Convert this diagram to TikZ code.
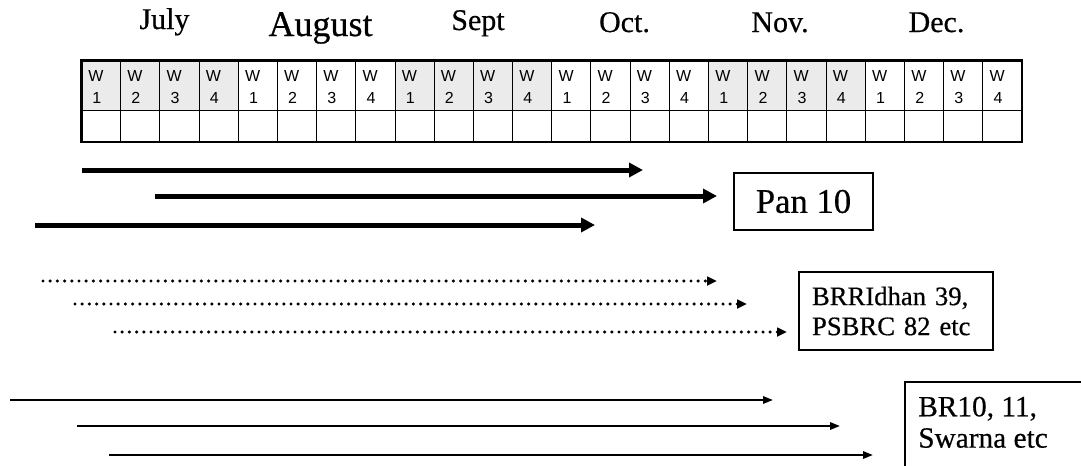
\documentclass[tikz,border=0pt]{standalone}
\usepackage{fontspec}
\setmainfont{Liberation Serif}[FakeBold=0.5]
\newfontfamily\arialf{Liberation Sans}
\usetikzlibrary{arrows.meta}
\definecolor{cellgray}{RGB}{235,235,235}
\begin{document}
\begin{tikzpicture}[x=0.75pt,y=-0.75pt,
  month/.style={font=\fontsize{22.5}{26}\selectfont, anchor=base, inner sep=0pt},
  wlab/.style={font=\arialf\fontsize{12}{13}\selectfont, anchor=base west, inner sep=0pt},
  bigarrow/.style={line width=3.75pt, -{Triangle[length=10.5pt,width=10.5pt]}},
  dotarrow/.style={line width=2.6pt, line cap=round, dash pattern=on 0pt off 5.4pt, -{Triangle[length=7.5pt,width=6.5pt]}},
  thinarrow/.style={line width=1.5pt, -{Triangle[length=7.5pt,width=5.5pt]}},
  gridline/.style={line width=0.75pt},
  outerline/.style={line width=2pt},
]
\useasboundingbox (0,0) rectangle (1081,465);

% month labels
\node[month] (jul) at (164.5,29) {July};
\node[month, font=\fontsize{27}{31}\selectfont] (aug) at (320.5,36) {August};
\node[month] (sep) at (478,30) {Sept};
\node[month] (oct) at (624.5,32) {Oct.};
\node[month] (nov) at (780,32) {Nov.};
\node[month] (dec) at (936.5,32) {Dec.};

% table
\def\tl{81.5}\def\cw{39.19}
\foreach \i in {0,1,2,3,8,9,10,11,16,17,18,19}{
  \fill[cellgray] ({\tl+\i*\cw},60.5) rectangle ({\tl+(\i+1)*\cw},110.5);
}
\foreach \i in {1,...,23}{
  \draw[gridline] ({\tl+\i*\cw},60.5) -- ({\tl+\i*\cw},142);
}
\draw[gridline] (\tl,110.5) -- ({\tl+24*\cw},110.5);
\draw[outerline] (\tl,60.5) rectangle ({\tl+24*\cw},142);
\foreach \i in {0,...,23}{
  \pgfmathtruncatemacro{\wk}{mod(\i,4)+1}
  \node[wlab] (w\i) at ({\tl+\i*\cw+6.5},81.5) {W};
  \node[wlab] (n\i) at ({\tl+\i*\cw+10.5},103) {\wk};
}

% Pan 10 group
\node[draw, line width=1.5pt, minimum width=104pt, minimum height=43pt, inner sep=0pt,
      font=\fontsize{26}{30}\selectfont] (pan) at (803.5,201.5) {Pan 10};
\coordinate (a1s) at (82,170);  \coordinate (a1e) at (643,170);
\coordinate (a2s) at (155,196); \coordinate (a2e) at (717,196);
\coordinate (a3s) at (35,225);  \coordinate (a3e) at (595,225);
\draw[bigarrow] (a1s) -- (a1e);
\draw[bigarrow] (a2s) -- (a2e);
\draw[bigarrow] (a3s) -- (a3e);

% BRRIdhan group
\node[draw, line width=1.1pt, minimum width=145.5pt, minimum height=58.5pt,
      text width=126pt, inner xsep=9.75pt, inner ysep=0pt, align=left,
      font=\fontsize{20}{22.5}\selectfont] (brri) at (896,311) {BRRIdhan 39,\\PSBRC 82 etc};
\coordinate (d1s) at (43,281);  \coordinate (d1e) at (717,281);
\coordinate (d2s) at (75,304);  \coordinate (d2e) at (747,304);
\coordinate (d3s) at (115,332); \coordinate (d3e) at (787,332);
\draw[dotarrow] (d1s) -- (d1e);
\draw[dotarrow] (d2s) -- (d2e);
\draw[dotarrow] (d3s) -- (d3e);

% BR10 group
\coordinate (bbl) at (905,470);
\coordinate (btl) at (905,382);
\coordinate (btr) at (1085,382);
\draw[line width=0.8pt] (bbl) -- (btl) -- (btr);
\node[anchor=north west, inner sep=0pt, align=left,
      font=\fontsize{22}{23.5}\selectfont] (br) at (918,396.5) {BR10, 11,\\Swarna etc};
\coordinate (s1s) at (10,400);  \coordinate (s1e) at (773,400);
\coordinate (s2s) at (77,426);  \coordinate (s2e) at (840,426);
\coordinate (s3s) at (109,455); \coordinate (s3e) at (873,455);
\draw[thinarrow] (s1s) -- (s1e);
\draw[thinarrow] (s2s) -- (s2e);
\draw[thinarrow] (s3s) -- (s3e);
\end{tikzpicture}
\end{document}
